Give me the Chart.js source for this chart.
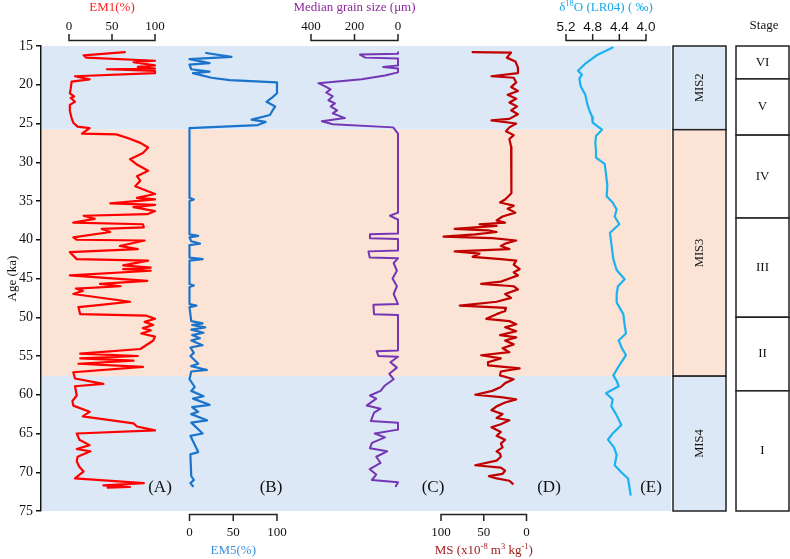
<!DOCTYPE html>
<html><head><meta charset="utf-8">
<script src="https://cdn.jsdelivr.net/npm/chart.js@4/dist/chart.umd.min.js"></script>
<style>html,body{margin:0;padding:0;background:#fff;}</style>
</head><body>
<canvas id="c" width="790" height="559"></canvas>
<script>
// ---------------- DATA ----------------
const em1Age = [15.8,16.2,16.5,16.9,17.1,17.5,17.7,17.9,18.0,18.2,18.5,18.9,19.3,19.6,20.5,21.1,21.5,21.7,22.2,22.6,23.4,24.3,24.9,25.4,25.6,26.3,26.4,26.9,27.5,28.1,28.8,29.6,30.3,31.1,31.8,32.4,33.1,33.7,34.1,34.6,34.8,35.3,35.5,35.8,36.3,36.7,36.9,37.3,37.8,38.0,38.4,38.6,39.0,39.7,40.0,40.1,40.8,41.2,41.6,42.5,42.7,43.3,43.6,43.8,44.0,44.6,45.3,45.7,46.0,46.3,46.6,47.0,48.0,48.4,48.7,49.6,49.8,50.2,50.6,51.0,51.4,51.7,52.1,52.5,53.0,54.1,54.7,55.0,55.3,55.6,56.0,56.4,57.1,57.9,58.6,58.9,60.1,60.8,61.4,62.2,62.8,63.7,64.1,64.6,65.0,65.8,66.5,67.0,67.3,68.0,68.6,69.3,69.9,70.8,71.4,71.7,71.9,72.0];
const em1 = [65,17,20,100,75,100,80,100,44,100,100,7,24,3,2,1,6,2,7,1,1,3,5,10,24,15,55,69,83,92,86,71,79,92,79,83,77,91,100,79,100,48,100,75,100,91,17,30,5,86,87,38,48,5,9,88,59,80,1,9,92,63,95,63,95,1,91,36,60,8,16,5,71,37,11,13,90,100,88,98,86,95,84,100,98,83,13,80,13,75,11,86,5,7,40,7,9,4,5,24,16,75,79,100,9,12,24,9,25,10,9,12,17,7,87,40,71,45];

const em5Age = [15.9,16.4,16.7,17.2,17.4,18.0,18.3,18.5,19.1,19.4,19.7,20.5,21.1,21.6,22.2,22.8,23.3,23.9,24.5,24.8,25.2,25.6,30.0,34.6,34.8,35.0,39.3,39.5,39.7,40.2,40.5,40.7,42.3,42.5,42.7,45.7,45.9,46.1,48.3,48.5,48.7,50.5,50.8,51.0,51.3,51.6,52.0,52.3,52.7,53.0,53.6,53.9,54.6,55.0,56.0,56.3,56.8,57.0,58.0,59.0,59.5,60.2,60.5,61.3,61.6,62.2,62.5,63.3,63.6,65.0,65.3,67.4,67.7,70.5,71.0,71.4,71.8];
const em5 = [19,48,0,23,0,2,23,4,25,46,100,100,100,95,88,98,95,92,71,87,78,0,0,0,5,0,0,10,0,2,12,0,0,15,0,0,5,0,0,8,0,2,15,3,18,2,16,3,12,2,15,1,5,1,10,2,20,2,0,6,2,16,4,23,3,10,2,20,2,15,1,10,1,2,5,1,4];

const medAge = [15.8,16.0,16.1,16.5,16.6,17.5,17.7,17.9,18.4,18.8,19.3,19.8,20.2,20.6,21.0,21.5,22.0,22.4,22.8,23.3,23.7,24.3,24.7,25.1,25.5,26.3,36.5,36.9,37.4,39.2,39.3,39.8,39.9,41.4,41.5,42.3,42.4,43.0,44.0,45.0,46.0,47.0,48.3,48.4,49.6,49.7,54.3,54.4,55.0,55.1,55.8,56.5,57.3,58.0,58.8,59.5,60.1,60.5,61.4,61.8,62.3,63.4,63.6,64.5,65.0,65.5,66.2,66.9,67.3,68.0,68.8,69.6,70.3,71.0,71.3,71.8];
const median = [0,0,175,150,0,0,68,0,0,60,167,366,335,310,330,300,320,290,310,280,300,244,350,300,22,0,0,37,0,0,129,129,0,0,136,130,0,20,5,25,5,20,0,113,110,0,0,98,90,0,35,5,40,20,60,80,129,100,144,80,110,125,0,0,107,60,120,129,50,100,80,130,100,120,0,10];

const msAge = [15.8,15.85,16.5,17.0,17.8,18.5,18.9,19.1,19.7,20.3,20.8,21.3,21.8,22.3,22.8,23.3,23.8,24.4,24.6,25.0,25.5,26.0,26.5,27.0,28.0,30.0,32.0,34.0,34.8,35.2,35.6,36.0,36.5,37.0,37.5,37.8,38.0,38.2,38.4,38.6,38.8,39.0,39.3,39.6,39.8,40.1,40.5,40.8,41.2,41.5,41.8,42.2,42.5,42.7,43.2,43.8,44.2,44.6,45.0,45.4,45.7,46.0,46.4,47.0,47.5,48.0,48.5,48.8,49.2,49.6,50.2,50.5,50.9,51.3,51.8,52.3,52.6,53.0,53.5,54.0,54.5,54.9,55.3,55.8,56.2,56.6,57.0,57.5,58.0,58.5,59.0,59.5,60.0,60.3,60.6,61.0,61.5,62.0,62.5,63.0,63.3,63.8,64.2,64.8,65.3,65.8,66.3,66.8,67.3,67.6,68.0,68.5,69.1,69.4,69.8,70.2,70.5,70.8,71.1,71.5];
const ms = [63,18,23,13,10,10,41,15,12,18,10,22,12,20,11,18,10,20,41,12,20,24,15,20,18,18,17,18,25,31,15,22,13,28,35,25,55,35,60,84,45,35,60,97,40,12,25,30,20,84,55,63,30,12,15,8,15,10,20,30,53,15,10,25,18,35,78,24,25,35,47,20,12,25,12,31,12,25,15,28,20,53,30,45,45,8,30,31,15,25,30,40,60,30,12,25,35,41,28,35,20,30,41,30,35,25,30,28,35,31,30,35,60,30,25,28,44,35,20,16];

const d18oAge = [15.2,16.2,17.2,18.2,18.7,19.2,20.2,21.3,22.5,23.3,24.1,24.9,25.8,26.6,27.5,28.5,29.4,30.2,31.5,33.0,34.4,35.2,36.1,37.0,38.0,39.1,40.5,42.5,43.9,45.1,46.0,47.0,48.1,49.6,51.0,52.1,53.0,54.0,54.9,56.2,57.5,58.2,58.9,59.8,60.6,61.5,62.5,63.9,65.0,65.8,66.8,67.8,69.1,70.0,70.8,72.9];
const d18o = [4.50,4.74,4.90,5.02,4.96,5.00,4.98,4.91,4.88,4.85,4.81,4.80,4.66,4.75,4.76,4.75,4.75,4.62,4.60,4.58,4.59,4.50,4.44,4.47,4.40,4.54,4.52,4.49,4.44,4.32,4.42,4.44,4.44,4.34,4.32,4.30,4.41,4.36,4.30,4.40,4.49,4.44,4.41,4.60,4.50,4.52,4.45,4.37,4.50,4.57,4.48,4.44,4.47,4.37,4.27,4.23];

// tick values / labels
const em1Ticks = [0,50,100];
const em5Ticks = [0,50,100];
const medTicks = [400,200,0];
const msTicks = [100,50,0];
const d18oTicks = [5.2,4.8,4.4,4.0];
const d18oTickLabels = ['5.2','4.8','4.4','4.0'];

// climate periods (age ranges)
const bandFrom = [15,25.8,57.6];
const bandTo   = [25.8,57.6,75];
const bandKind = ['cold','warm','cold'];
const misNames = ['MIS2','MIS3','MIS4'];
const stageFrom = [15,19.25,26.5,37.2,50.0,59.5];
const stageTo   = [19.25,26.5,37.2,50.0,59.5,75];
const stageNames = ['VI','V','IV','III','II','I'];
const panelLetters = ['(A)','(B)','(C)','(D)','(E)'];

// ---------------- LAYOUT / STYLE ----------------
const L = 41, R = 790;
const BLUE = '#dce8f5', PEACH = '#fbe3d5';
const SERIF = "'Liberation Serif','DejaVu Serif',serif";
const SANS = "'Liberation Sans','DejaVu Sans',sans-serif";

function lin(v1,p1,v2,p2){
  const k=(p2-p1)/(v2-v1);
  const a=v1+(L-p1)/k, b=v1+(R-p1)/k;
  return k>0?{min:a,max:b,reverse:false}:{min:b,max:a,reverse:true};
}
function xs(name, cfg){ return Object.assign({type:'linear', display:false, axis:'x'}, cfg); }
function pts(ages, vals){ return ages.map((a,i)=>({x:vals[i], y:a})); }

// rich text drawing (superscripts)
function richText(ctx, parts, cx, cy, size, color){
  ctx.save();
  ctx.fillStyle=color; ctx.textBaseline='middle'; ctx.textAlign='left';
  let w=0;
  parts.forEach(p=>{ctx.font=(p[1]?size*0.65:size)+'px '+SERIF; w+=ctx.measureText(p[0]).width;});
  let x=cx-w/2;
  parts.forEach(p=>{
    ctx.font=(p[1]?size*0.65:size)+'px '+SERIF;
    ctx.fillText(p[0], x, p[1]?cy-size*0.3:cy);
    x+=ctx.measureText(p[0]).width;
  });
  ctx.restore();
}

const panelAxes = [
  {id:'xA', ticks:em1Ticks, labels:em1Ticks.map(String), side:'top', tfont:'13px '+SERIF, title:[['EM1(%)',false]], color:'#ff2020'},
  {id:'xB', ticks:em5Ticks, labels:em5Ticks.map(String), side:'bottom', tfont:'13px '+SERIF, title:[['EM5(%)',false]], color:'#3b8fdc'},
  {id:'xC', ticks:medTicks, labels:medTicks.map(String), side:'top', tfont:'13px '+SERIF, title:[['Median grain size (\u03bcm)',false]], color:'#8e2a9e'},
  {id:'xD', ticks:msTicks, labels:msTicks.map(String), side:'bottom', tfont:'13px '+SERIF, title:[['MS (x10',false],['-8',true],[' m',false],['3',true],[' kg',false],['-1',true],[')',false]], color:'#a3201e'},
  {id:'xE', ticks:d18oTicks, labels:d18oTickLabels, side:'top', tfont:'13.5px '+SANS, title:[['\u03b4',false],['18',true],['O (LR04) ( \u2030)',false]], color:'#1aa8e8'}
];
const letterX = [160,271,433,549,651];

const deco = {
  id:'deco',
  beforeDraw(chart){
    const {ctx, scales:{y}} = chart;
    ctx.save();
    bandFrom.forEach((f,i)=>{
      const y0=y.getPixelForValue(f), y1=y.getPixelForValue(bandTo[i]);
      ctx.fillStyle = bandKind[i]==='cold'?BLUE:PEACH;
      ctx.fillRect(L+1, y0, 671-(L+1), y1-y0);
    });
    ctx.restore();
  },
  afterDraw(chart){
    const {ctx, scales} = chart;
    const y = scales.y;
    ctx.save();
    // panel axes
    panelAxes.forEach(p=>{
      const sc = scales[p.id];
      const top = p.side==='top';
      const yLine = top?40.5:514.5, dir = top?-1:1;
      const px = p.ticks.map(t=>sc.getPixelForValue(t));
      const x0=Math.min(...px), x1=Math.max(...px);
      ctx.strokeStyle='#222'; ctx.lineWidth=1.5; ctx.lineCap='butt';
      ctx.beginPath(); ctx.moveTo(x0-0.75,yLine); ctx.lineTo(x1+0.75,yLine);
      px.forEach(x=>{ctx.moveTo(x,yLine); ctx.lineTo(x,yLine+dir*6.5);});
      ctx.stroke();
      ctx.fillStyle='#111'; ctx.font=p.tfont; ctx.textAlign='center'; ctx.textBaseline='middle';
      px.forEach((x,i)=>ctx.fillText(p.labels[i], x, top?27:533));
      richText(ctx, p.title, (x0+x1)/2, top?8:551, 13, p.color);
    });
    // panel letters
    ctx.fillStyle='#111'; ctx.font='17px '+SERIF; ctx.textAlign='center'; ctx.textBaseline='middle';
    panelLetters.forEach((t,i)=>ctx.fillText(t, letterX[i], 488));
    // MIS boxes
    misNames.forEach((n,i)=>{
      const y0=y.getPixelForValue(bandFrom[i]), y1=y.getPixelForValue(bandTo[i]);
      ctx.fillStyle = bandKind[i]==='cold'?BLUE:PEACH;
      ctx.fillRect(673,y0,53,y1-y0);
      ctx.strokeStyle='#222'; ctx.lineWidth=1.5;
      ctx.strokeRect(673,y0,53,y1-y0);
      ctx.save();
      ctx.translate(700,(y0+y1)/2); ctx.rotate(-Math.PI/2);
      ctx.fillStyle='#111'; ctx.font='12.5px '+SERIF; ctx.textAlign='center'; ctx.textBaseline='middle';
      ctx.fillText(n,0,0);
      ctx.restore();
    });
    // stage boxes
    ctx.font='13px '+SERIF; ctx.textAlign='center'; ctx.textBaseline='middle';
    stageNames.forEach((n,i)=>{
      const y0=y.getPixelForValue(stageFrom[i]), y1=y.getPixelForValue(stageTo[i]);
      ctx.fillStyle='#fff'; ctx.fillRect(736,y0,53,y1-y0);
      ctx.strokeStyle='#222'; ctx.lineWidth=1.5; ctx.strokeRect(736,y0,53,y1-y0);
      ctx.fillStyle='#111'; ctx.fillText(n,762.5,(y0+y1)/2);
    });
    ctx.fillStyle='#111'; ctx.fillText('Stage',764,26);
    ctx.restore();
  }
};

new Chart(document.getElementById('c'), {
  type:'line',
  data:{datasets:[
    {data:pts(em1Age,em1), xAxisID:'xA', yAxisID:'y', borderColor:'#ff0000', borderWidth:2.2},
    {data:pts(em5Age,em5), xAxisID:'xB', yAxisID:'y', borderColor:'#1a74cc', borderWidth:2.2},
    {data:pts(medAge,median), xAxisID:'xC', yAxisID:'y', borderColor:'#7436b4', borderWidth:2},
    {data:pts(msAge,ms), xAxisID:'xD', yAxisID:'y', borderColor:'#c00000', borderWidth:2.2},
    {data:pts(d18oAge,d18o), xAxisID:'xE', yAxisID:'y', borderColor:'#1bb2ee', borderWidth:2.2}
  ]},
  options:{
    responsive:false, animation:false, devicePixelRatio:1,
    layout:{padding:{top:46,bottom:48,left:0,right:0}},
    plugins:{legend:{display:false}, tooltip:{enabled:false}},
    elements:{point:{radius:0}, line:{tension:0, fill:false, borderJoinStyle:'round', borderCapStyle:'round'}},
    scales:{
      y:{type:'linear', position:'left', reverse:true, min:15, max:75,
         ticks:{stepSize:5, color:'#111', font:{family:SERIF, size:14}, padding:3},
         grid:{drawOnChartArea:false, drawTicks:true, tickLength:5, color:'#111', lineWidth:1.5},
         border:{display:true, color:'#111', width:1.5},
         title:{display:true, text:'Age (ka)', color:'#111', font:{family:SERIF, size:13}, padding:{top:5,bottom:0}},
         afterFit(s){ s.width = L; }},
      xA: xs('xA', lin(0,69,100,155)),
      xB: xs('xB', lin(0,189.5,100,277)),
      xC: xs('xC', lin(400,311,0,398)),
      xD: xs('xD', lin(100,441,0,526.5)),
      xE: xs('xE', lin(5.2,566,4.0,646))
    }
  },
  plugins:[deco]
});
</script>
</body></html>
